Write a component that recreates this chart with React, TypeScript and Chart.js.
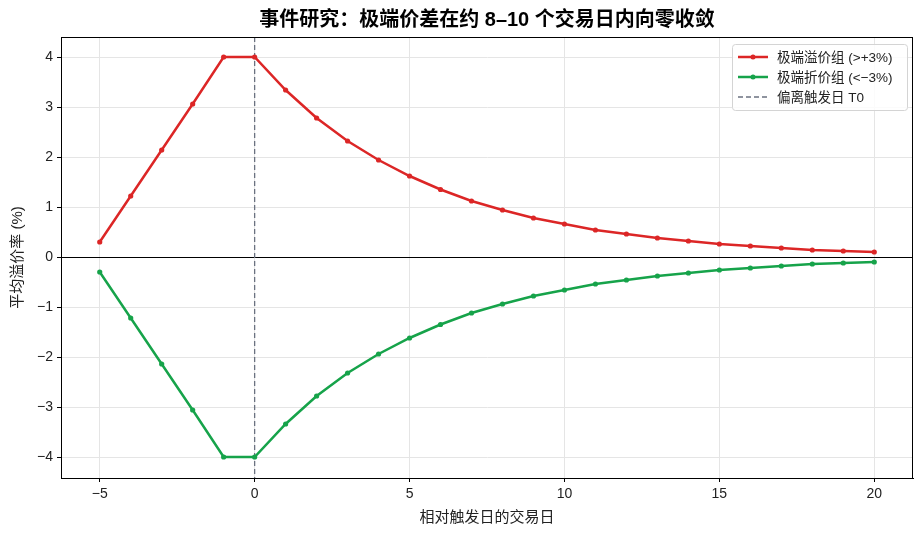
import React, { useEffect, useRef } from "react";
import { Chart, registerables } from "chart.js";

Chart.register(...registerables);

const days = [-5, -4, -3, -2, -1, 0, 1, 2, 3, 4, 5, 6, 7, 8, 9, 10, 11, 12, 13, 14, 15, 16, 17, 18, 19, 20];
const premiumGroup = [0.3, 1.22, 2.14, 3.06, 4.0, 4.0, 3.34, 2.78, 2.32, 1.94, 1.62, 1.35, 1.12, 0.94, 0.78, 0.66, 0.54, 0.46, 0.38, 0.32, 0.26, 0.22, 0.18, 0.14, 0.12, 0.1];
const discountGroup = [-0.3, -1.22, -2.14, -3.06, -4.0, -4.0, -3.34, -2.78, -2.32, -1.94, -1.62, -1.35, -1.12, -0.94, -0.78, -0.66, -0.54, -0.46, -0.38, -0.32, -0.26, -0.22, -0.18, -0.14, -0.12, -0.1];
const xTicks = [-5, 0, 5, 10, 15, 20];
const yTicks = [-4, -3, -2, -1, 0, 1, 2, 3, 4];
const triggerDay = 0;

const TITLE = "事件研究：极端价差在约 8–10 个交易日内向零收敛";
const X_TITLE = "相对触发日的交易日";
const Y_TITLE = "平均溢价率 (%)";
const LABEL_PREMIUM = "极端溢价组 (>+3%)";
const LABEL_DISCOUNT = "极端折价组 (<−3%)";
const LABEL_TRIGGER = "偏离触发日 T0";

const RED = "#dc2626";
const GREEN = "#16a34a";
const DASH = "#6b7280";
const FONT = "'Liberation Sans', 'Noto Sans CJK SC', sans-serif";

const fmt = (v: any) => (v < 0 ? "−" + Math.abs(v) : String(v));

export default function App() {
  const ref = useRef<HTMLCanvasElement | null>(null);
  useEffect(() => {
    document.body.style.margin = "0";
    const canvas = ref.current!;
    const overlay = {
      id: "overlay",
      beforeDatasetsDraw(chart: any) {
        const { ctx, chartArea, scales } = chart;
        ctx.save();
        const y0 = Math.round(scales.y.getPixelForValue(0)) + 0.5;
        ctx.strokeStyle = "#000";
        ctx.lineWidth = 1;
        ctx.beginPath();
        ctx.moveTo(chartArea.left, y0);
        ctx.lineTo(chartArea.right, y0);
        ctx.stroke();
        const xt = scales.x.getPixelForValue(triggerDay);
        ctx.strokeStyle = DASH;
        ctx.lineWidth = 1.3;
        ctx.setLineDash([5, 3]);
        ctx.beginPath();
        ctx.moveTo(xt, chartArea.top);
        ctx.lineTo(xt, chartArea.bottom);
        ctx.stroke();
        ctx.restore();
      },
      afterDraw(chart: any) {
        const { ctx, chartArea } = chart;
        ctx.save();
        ctx.strokeStyle = "#000";
        ctx.lineWidth = 1;
        ctx.strokeRect(chartArea.left + 0.5, chartArea.top + 0.5, chartArea.right - chartArea.left - 1, chartArea.bottom - chartArea.top);
        ctx.fillStyle = "#000";
        ctx.font = `bold 20px ${FONT}`;
        ctx.textAlign = "center";
        ctx.textBaseline = "middle";
        ctx.fillText(TITLE, (chartArea.left + chartArea.right) / 2, 20);
        const bx = chartArea.right - 181, by = chartArea.top + 7, bw = 175, bh = 66;
        ctx.fillStyle = "rgba(255,255,255,0.85)";
        ctx.strokeStyle = "#d4d4d4";
        ctx.lineWidth = 1;
        ctx.beginPath();
        (ctx as any).roundRect(bx + 0.5, by + 0.5, bw, bh, 3);
        ctx.fill();
        ctx.stroke();
        const items = [
          { label: LABEL_PREMIUM, color: RED, dash: false },
          { label: LABEL_DISCOUNT, color: GREEN, dash: false },
          { label: LABEL_TRIGGER, color: DASH, dash: true },
        ];
        ctx.font = `13.5px ${FONT}`;
        ctx.textAlign = "left";
        items.forEach((it, i) => {
          const yy = by + 13 + i * 20;
          ctx.strokeStyle = it.color;
          if (it.dash) {
            ctx.lineWidth = 1.3;
            ctx.setLineDash([5, 3]);
          } else {
            ctx.lineWidth = 2.5;
            ctx.setLineDash([]);
          }
          ctx.beginPath();
          ctx.moveTo(bx + 6, yy);
          ctx.lineTo(bx + 36, yy);
          ctx.stroke();
          ctx.setLineDash([]);
          if (!it.dash) {
            ctx.fillStyle = it.color;
            ctx.beginPath();
            ctx.arc(bx + 21, yy, 2.5, 0, Math.PI * 2);
            ctx.fill();
          }
          ctx.fillStyle = "#222";
          ctx.fillText(it.label, bx + 45, yy + 1);
        });
        ctx.restore();
      },
    };
    const chart = new Chart(canvas, {
      type: "line",
      data: {
        datasets: [
          {
            label: LABEL_PREMIUM,
            data: days.map((d, i) => ({ x: d, y: premiumGroup[i] })),
            borderColor: RED,
            backgroundColor: RED,
            borderWidth: 2.5,
            pointRadius: 2.6,
            pointBorderWidth: 0,
            tension: 0,
          },
          {
            label: LABEL_DISCOUNT,
            data: days.map((d, i) => ({ x: d, y: discountGroup[i] })),
            borderColor: GREEN,
            backgroundColor: GREEN,
            borderWidth: 2.5,
            pointRadius: 2.6,
            pointBorderWidth: 0,
            tension: 0,
          },
        ],
      },
      options: {
        animation: false,
        responsive: false,
        maintainAspectRatio: false,
        layout: { padding: { top: 37, right: 11, left: 0, bottom: 0 } },
        plugins: { legend: { display: false }, title: { display: false }, tooltip: { enabled: false } },
        scales: {
          x: {
            type: "linear",
            min: -6.25,
            max: 21.25,
            afterBuildTicks: (s: any) => { s.ticks = xTicks.map((v) => ({ value: v })); },
            afterFit: (s: any) => { s.height = 58; },
            grid: { color: "#e5e5e5", tickColor: "#000", tickLength: 4, lineWidth: 1 },
            border: { color: "#000", width: 1 },
            ticks: { color: "#222", font: { size: 14, family: FONT }, padding: 4, callback: fmt },
            title: { display: true, text: X_TITLE, color: "#222", font: { size: 15, family: FONT }, padding: { top: 4, bottom: 9 } },
          },
          y: {
            type: "linear",
            min: -4.42,
            max: 4.4,
            afterBuildTicks: (s: any) => { s.ticks = yTicks.map((v) => ({ value: v })); },
            afterFit: (s: any) => { s.width = 61; },
            grid: { color: "#e5e5e5", tickColor: "#000", tickLength: 4, lineWidth: 1 },
            border: { color: "#000", width: 1 },
            ticks: { color: "#222", font: { size: 14, family: FONT }, padding: 4, callback: fmt },
            title: { display: true, text: Y_TITLE, color: "#222", font: { size: 15, family: FONT }, padding: { top: 9, bottom: 4 } },
          },
        },
      } as any,
      plugins: [overlay],
    });
    return () => chart.destroy();
  }, []);
  return (
    <div style={{ width: 924, height: 536, background: "#fff" }}>
      <canvas ref={ref} width={924} height={536} style={{ display: "block" }} />
    </div>
  );
}
